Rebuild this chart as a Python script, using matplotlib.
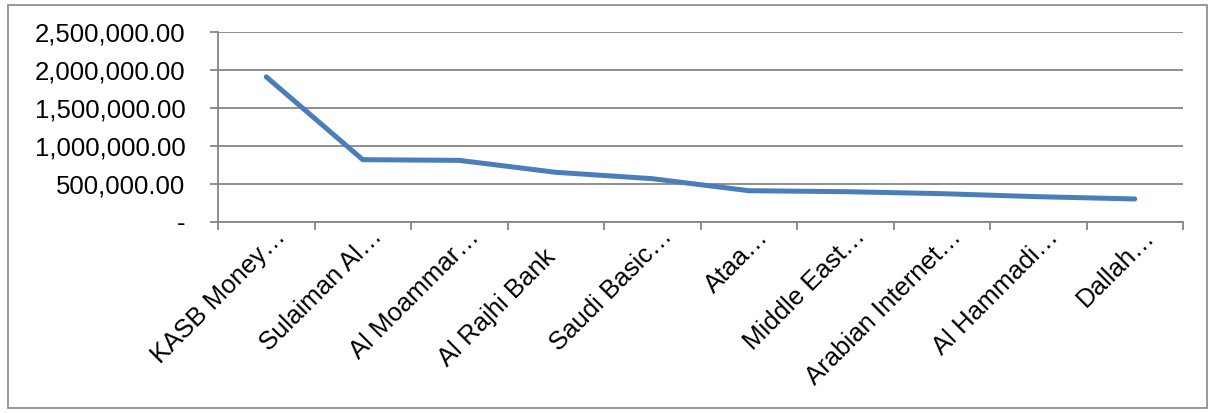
import matplotlib
matplotlib.use("Agg")
import matplotlib.pyplot as plt
from matplotlib.patches import Rectangle
from matplotlib.ticker import FuncFormatter
from matplotlib.transforms import ScaledTranslation

plt.rcParams['font.family'] = ['Liberation Sans', 'DejaVu Sans']

# data
companies = ["KASB Money\u2026", "Sulaiman Al\u2026", "Al Moammar\u2026", "Al Rajhi Bank    ",
             "Saudi Basic\u2026", "Ataa\u2026", "Middle East\u2026", "Arabian Internet\u2026",
             "Al Hammadi\u2026", "Dallah\u2026"]
values = [1910000, 820000, 811000, 654000, 570000, 412000, 399000, 373000, 333000, 303000]
y_ticks = [0, 500000, 1000000, 1500000, 2000000, 2500000]

grid_col = '#868686'
line_col = '#4A7EBB'

fig = plt.figure(figsize=(12.15, 4.13), dpi=100)
ax = fig.add_axes([218/1215, 1-222/413, (1183-218)/1215, (222-32)/413])

x = list(range(len(companies)))
ax.plot(x, values, color=line_col, linewidth=3.6, solid_capstyle='round',
        solid_joinstyle='round', zorder=3)

ax.set_xlim(-0.5, len(companies) - 0.5)
ax.set_ylim(0, 2500000)
ax.set_yticks(y_ticks)
ax.yaxis.set_major_formatter(FuncFormatter(lambda v, p: '-' if v == 0 else f'{v:,.2f}'))
ax.grid(axis='y', color=grid_col, linewidth=1.3)
ax.set_axisbelow(True)

ax.set_xticks(x)
ax.set_xticklabels(companies, rotation=45, ha='right', va='baseline',
                   rotation_mode='anchor')
ax.set_xticks([i - 0.5 for i in range(len(companies) + 1)], minor=True)
ax.tick_params(axis='x', which='major', length=0, pad=11.5, labelsize=18.5)
ax.tick_params(axis='x', which='minor', length=6, width=1.3, color=grid_col)
ax.tick_params(axis='y', length=6, width=1.3, color=grid_col, pad=17.5, labelsize=18.5)

# shift the rotated labels a bit right, like the original
shift = ScaledTranslation(21/100, 0, fig.dpi_scale_trans)
for lab in ax.get_xticklabels():
    lab.set_transform(lab.get_transform() + shift)

for s in ['top', 'right']:
    ax.spines[s].set_visible(False)
for s in ['left', 'bottom']:
    ax.spines[s].set_color(grid_col)
    ax.spines[s].set_linewidth(1.3)

# outer chart border
fig.patches.append(Rectangle((8/1215, 5/413), 1199/1215, 403/413, transform=fig.transFigure,
                             fill=False, edgecolor=grid_col, linewidth=1.2))

fig.savefig('out.png', dpi=100)
